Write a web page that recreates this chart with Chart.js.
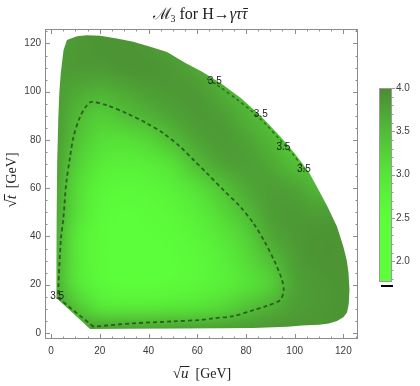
<!DOCTYPE html>
<html><head><meta charset="utf-8">
<style>html,body{margin:0;padding:0;background:#fff}#wrap{width:420px;height:386px;position:relative}</style>
<script src="https://cdn.jsdelivr.net/npm/chart.js@4"></script>
</head><body><div id="wrap"><canvas id="c" width="420" height="386"></canvas></div>
<script>
// ---------- data ----------
const gridU = [0,10,20,30,40,50,60,70,80,90,100,110,120];
const gridT = [0,10,20,30,40,50,60,70,80,90,100,110,120];
// M3 values; one row per sqrt(t) in gridT, one column per sqrt(u) in gridU
const m3Row000 = [3.85,3.85,3.9,3.9,3.9,3.9,3.9,3.9,3.9,3.9,3.9,3.9,3.9];
const m3Row010 = [3.9,3.45,3.0,2.95,2.95,3.0,3.05,3.2,3.45,3.65,3.8,3.85,3.9];
const m3Row020 = [3.75,3.0,2.6,2.5,2.5,2.55,2.65,2.8,3.0,3.25,3.75,3.85,3.9];
const m3Row030 = [3.75,2.95,2.55,2.45,2.45,2.5,2.6,2.8,3.1,3.45,3.8,3.9,3.9];
const m3Row040 = [3.8,2.95,2.55,2.45,2.45,2.55,2.7,2.95,3.25,3.7,3.85,3.9,3.9];
const m3Row050 = [3.85,3.1,2.6,2.5,2.55,2.65,2.85,3.15,3.5,3.8,3.85,3.8,3.85];
const m3Row060 = [3.85,3.15,2.7,2.6,2.65,2.8,3.05,3.4,3.7,3.8,3.75,3.55,3.7];
const m3Row070 = [3.9,3.3,2.9,2.8,2.85,3.05,3.5,3.75,3.8,3.7,3.45,3.4,3.6];
const m3Row080 = [3.9,3.45,3.1,3.05,3.2,3.5,3.75,3.85,3.75,3.55,3.3,3.4,3.6];
const m3Row090 = [3.9,3.55,3.3,3.45,3.6,3.75,3.85,3.8,3.6,3.4,3.3,3.35,3.5];
const m3Row100 = [3.85,3.7,3.6,3.7,3.8,3.85,3.85,3.65,3.45,3.35,3.35,3.4,3.5];
const m3Row110 = [3.8,3.85,3.85,3.9,3.9,3.85,3.7,3.5,3.4,3.4,3.4,3.45,3.5];
const m3Row120 = [3.8,3.85,3.9,3.9,3.85,3.75,3.6,3.5,3.45,3.45,3.45,3.5,3.5];
const m3Rows = [m3Row000,m3Row010,m3Row020,m3Row030,m3Row040,m3Row050,m3Row060,
                m3Row070,m3Row080,m3Row090,m3Row100,m3Row110,m3Row120];

// physical region boundary (sqrt u, sqrt t)
const boundaryU = [16,30,53,70,83,97,103,110,114,117.4,120,121.5,122.2,122.5,122.1,121.4,120,117.4,113.5,110,106,100,94,86,78,70,62,55,47.6,40.7,33.7,27,20.1,14.7,10.6,6.5,5.1,4.0,3.4,3.0,2.5,2.3,2.2,2.2,2.3];
const boundaryT = [1.6,1.7,1.9,2.0,2.1,2.6,3.1,3.4,3.9,5.0,6.5,8.5,12,17.8,25,30,35.7,44,52.3,59,66.4,74.5,81.5,90,97.3,103.3,108.3,112,116.5,118.6,120.7,122.1,123.2,123.4,123,121.4,117.2,108,100,90,71,50,30,14.5,14.4];

// 3.5 contour (inner closed curve)
const contourInU = [17.4,3.4,3.0,3.0,4.0,5.1,6.2,7.8,9.2,11.9,14.7,16.7,22.9,31.1,39.3,46.2,53,58.5,64,70.8,77.7,83.1,88,92.1,94.8,95.5,94.1,88.6,83.1,74.9,66.7,61.2,50,33.8,17.4];
const contourInT = [2.6,14.2,15,19.2,38.5,48.2,62,73,81.3,89.6,94.4,95.8,94.4,91,86.9,82.7,77.2,71.7,66.2,59.2,52.3,45.4,37.2,28.9,22,17.8,13.7,11.2,9.5,7,6.1,5.4,4.8,4.0,2.6];
// 3.5 contour hugging the outer edge
const contourOutU = [64,70,76,82,88,94,99,104.5];
const contourOutT = [105.4,101.5,97,92.3,86.7,80,74.4,67.3];
// contour labels
const labelU = [2.5,67.2,86.1,95.4,103.8];
const labelT = [15.3,104.2,90.7,76.8,67.9];
const labelText = ["3.5","3.5","3.5","3.5","3.5"];

const axisTicks = [0,20,40,60,80,100,120];
const colorbarTicks = [2.0,2.5,3.0,3.5,4.0];
const colorbarMin = 1.76, colorbarMax = 4.0;

// ---------- styling ----------
const cmapStops = [[1.76,[92,255,58]],[2.5,[92,253,58]],[2.75,[90,243,57]],[3.0,[87,229,56]],
  [3.25,[84,210,55]],[3.5,[81,188,54]],[3.75,[78,163,53]],[4.0,[75,138,52]]];
function cmap(v){
  if (v <= cmapStops[0][0]) return cmapStops[0][1];
  for (let i=1;i<cmapStops.length;i++){
    if (v <= cmapStops[i][0]){
      const a=cmapStops[i-1], b=cmapStops[i], f=(v-a[0])/(b[0]-a[0]);
      return a[1].map((c,k)=>Math.round(c+(b[1][k]-c)*f));
    }
  }
  return cmapStops[cmapStops.length-1][1];
}
const FRAME = '#8c8c8c', LABEL = '#3c3c3c';
const SANS = '"Liberation Sans", Arial, sans-serif';
const SERIF = '"Liberation Serif", "DejaVu Serif", serif';

const toPts = (us, ts) => us.map((u,i)=>({x:u, y:ts[i]}));

const densityPlugin = {
  id:'density',
  beforeDatasetsDraw(chart){
    const {ctx, scales:{x, y}} = chart;
    const n = gridU.length, m = gridT.length;
    const off = document.createElement('canvas');
    off.width = n; off.height = m;
    const octx = off.getContext('2d');
    const img = octx.createImageData(n, m);
    for (let j=0;j<m;j++) for (let i=0;i<n;i++){
      const c = cmap(m3Rows[j][i]);
      const p = ((m-1-j)*n + i)*4;
      img.data[p]=c[0]; img.data[p+1]=c[1]; img.data[p+2]=c[2]; img.data[p+3]=255;
    }
    octx.putImageData(img,0,0);
    const du = gridU[1]-gridU[0], dt = gridT[1]-gridT[0];
    const x0 = x.getPixelForValue(gridU[0]-du/2), x1 = x.getPixelForValue(gridU[n-1]+du/2);
    const y0 = y.getPixelForValue(gridT[m-1]+dt/2), y1 = y.getPixelForValue(gridT[0]-dt/2);
    ctx.save();
    ctx.beginPath();
    boundaryU.forEach((u,i)=>{
      const px = x.getPixelForValue(u), py = y.getPixelForValue(boundaryT[i]);
      i ? ctx.lineTo(px,py) : ctx.moveTo(px,py);
    });
    ctx.closePath();
    ctx.clip();
    ctx.imageSmoothingEnabled = true;
    ctx.imageSmoothingQuality = 'high';
    ctx.drawImage(off, x0, y0, x1-x0, y1-y0);
    ctx.restore();
  },
  afterDatasetsDraw(chart){
    const {ctx, chartArea:a, scales:{x, y}} = chart;
    ctx.save();
    // contour labels
    ctx.font = '10px ' + SANS;
    ctx.fillStyle = '#1a1a1a';
    ctx.textAlign = 'center'; ctx.textBaseline = 'middle';
    labelText.forEach((t,i)=>ctx.fillText(t, x.getPixelForValue(labelU[i]), y.getPixelForValue(labelT[i])));
    // frame
    ctx.strokeStyle = FRAME; ctx.lineWidth = 1;
    ctx.strokeRect(Math.round(a.left)+0.5, Math.round(a.top)+0.5, Math.round(a.right-a.left)-1, Math.round(a.bottom-a.top)-1);
    // inward ticks on all four sides
    const minorStep = 5;
    ctx.beginPath();
    for (let v = Math.ceil(x.min/minorStep)*minorStep; v <= x.max; v += minorStep){
      const len = axisTicks.includes(v) ? 5 : 2.5;
      const px = Math.round(x.getPixelForValue(v))+0.5;
      ctx.moveTo(px, a.bottom); ctx.lineTo(px, a.bottom-len);
      ctx.moveTo(px, a.top); ctx.lineTo(px, a.top+len);
    }
    for (let v = Math.ceil(y.min/minorStep)*minorStep; v <= y.max; v += minorStep){
      const len = axisTicks.includes(v) ? 5 : 2.5;
      const py = Math.round(y.getPixelForValue(v))+0.5;
      ctx.moveTo(a.left, py); ctx.lineTo(a.left+len, py);
      ctx.moveTo(a.right, py); ctx.lineTo(a.right-len, py);
    }
    ctx.stroke();

    // colorbar
    const cbL = 379, cbR = 392, cbT = 88, cbB = 282;
    const vy = v => cbT + (colorbarMax - v)/(colorbarMax-colorbarMin)*(cbB-cbT);
    for (let py = cbT; py < cbB; py++){
      const v = colorbarMax - (py+0.5-cbT)/(cbB-cbT)*(colorbarMax-colorbarMin);
      const c = cmap(v);
      ctx.fillStyle = `rgb(${c[0]},${c[1]},${c[2]})`;
      ctx.fillRect(cbL, py, cbR-cbL, 1);
    }
    ctx.strokeStyle = '#9a9a9a';
    ctx.strokeRect(cbL+0.5, cbT+0.5, cbR-cbL-1, cbB-cbT-1);
    ctx.beginPath();
    for (let k = Math.round(colorbarMin*10+0.5); k <= colorbarMax*10+1e-6; k++){
      const v = k/10;
      const major = colorbarTicks.some(t=>Math.abs(t-v)<1e-6);
      const py = Math.round(vy(v))+0.5;
      ctx.moveTo(cbR-1, py); ctx.lineTo(cbR + (major?3:1.5), py);
    }
    ctx.stroke();
    ctx.fillStyle = LABEL; ctx.font = '10px ' + SANS;
    ctx.textAlign = 'left'; ctx.textBaseline = 'middle';
    colorbarTicks.forEach(t=>ctx.fillText(t.toFixed(1), cbR+4, vy(t)));
    ctx.fillStyle = '#000';
    ctx.fillRect(381, 285, 12, 2);

    // title: M_3 for H→γττ̄
    ctx.fillStyle = '#222'; ctx.textBaseline = 'alphabetic'; ctx.textAlign = 'left';
    const parts = [
      {t:'ℳ', f:'16px ' + SERIF, dy:0},
      {t:'3', f:'10px ' + SERIF, dy:3},
      {t:' for H→', f:'16px ' + SERIF, dy:0},
      {t:'γττ', f:'italic 16px ' + SERIF, dy:0, bar:true}
    ];
    let tw = 0;
    parts.forEach(p=>{ctx.font=p.f; p.w=ctx.measureText(p.t).width; tw+=p.w;});
    let tx = 200 - tw/2; const ty = 19;
    parts.forEach(p=>{
      ctx.font=p.f; ctx.fillText(p.t, tx, ty+p.dy);
      if (p.bar){
        const w1 = ctx.measureText('γτ').width, w2 = ctx.measureText('τ').width;
        ctx.fillRect(tx+w1+1.5, ty-11, w2-1, 1);
      }
      tx += p.w;
    });

    // axis titles
    function sqrtLabel(cx, cy, v){
      const pieces = [
        {t:'√', f:'15px ' + SERIF},
        {t:v, f:'italic 15px ' + SERIF, bar:true},
        {t:'  [GeV]', f:'14px ' + SERIF}
      ];
      let w = 0;
      pieces.forEach(p=>{ctx.font=p.f; p.w=ctx.measureText(p.t).width; w+=p.w;});
      let px = cx - w/2;
      pieces.forEach(p=>{
        ctx.font=p.f; ctx.fillText(p.t, px, cy);
        if (p.bar) ctx.fillRect(px-1, cy-12, p.w+2, 1);
        px += p.w;
      });
    }
    ctx.fillStyle = '#222';
    sqrtLabel(202, 378, 'u');
    ctx.save();
    ctx.translate(16, 180); ctx.rotate(-Math.PI/2);
    sqrtLabel(0, 0, 't');
    ctx.restore();
    ctx.restore();
  }
};

const tickFont = {family: SANS, size: 10};
new Chart(document.getElementById('c'), {
  type:'scatter',
  data:{datasets:[
    {label:'3.5 inner', data: toPts(contourInU, contourInT), showLine:true, borderColor:'rgba(20,40,15,0.62)',
     borderWidth:1.8, borderDash:[4,3], pointRadius:0, tension:0.3, fill:false},
    {label:'3.5 outer', data: toPts(contourOutU, contourOutT), showLine:true, borderColor:'rgba(20,40,15,0.5)',
     borderWidth:1.6, borderDash:[3,3], pointRadius:0, tension:0.3, fill:false}
  ]},
  options:{
    responsive:false, animation:false, devicePixelRatio:1,
    layout:{padding:{top:29, right:62, left:0, bottom:0}},
    plugins:{legend:{display:false}, tooltip:{enabled:false}, title:{display:false}},
    scales:{
      x:{type:'linear', min:-2.5, max:126,
         afterBuildTicks: s => { s.ticks = axisTicks.map(v=>({value:v})); },
         afterFit: s => { s.height = 47; },
         ticks:{font:tickFont, color:LABEL, padding:6, maxRotation:0, autoSkip:false, includeBounds:false},
         grid:{display:false, drawTicks:false}, border:{display:false}},
      y:{type:'linear', min:-2.5, max:126,
         afterBuildTicks: s => { s.ticks = axisTicks.map(v=>({value:v})); },
         afterFit: s => { s.width = 45; },
         ticks:{font:tickFont, color:LABEL, padding:4, autoSkip:false, includeBounds:false},
         grid:{display:false, drawTicks:false}, border:{display:false}}
    }
  },
  plugins:[densityPlugin]
});
</script></body></html>
